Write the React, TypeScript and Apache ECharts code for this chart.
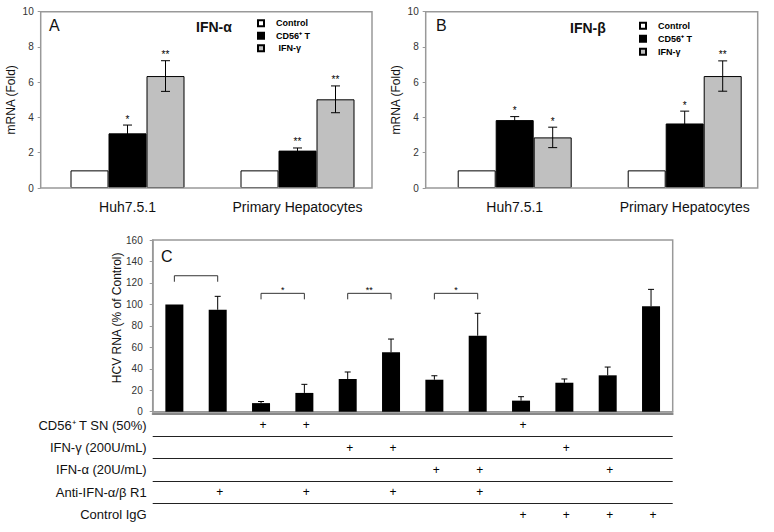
import React, { useEffect, useRef } from 'react';
import * as echarts from 'echarts';

const FONT = '"Liberation Sans", Arial, Helvetica, sans-serif';

// ---------- Panels A & B ----------
const abCategories = ['Huh7.5.1', 'Primary Hepatocytes'];
const abSeriesNames = ['Control', 'CD56⁺ T', 'IFN-γ'];
const abColors = ['#ffffff', '#000000', '#c0c0c0'];
const abTicks = [0, 10, 2]; // min, max, interval

const aControl = [1, 1];
const aCD56 = [3.1, 2.12];
const aIFNg = [6.35, 5.03];
const aCD56Err = [0.47, 0.15];
const aIFNgErr = [0.87, 0.76];
const aCD56Sig = ['*', '**'];
const aIFNgSig = ['**', '**'];

const bControl = [1, 1];
const bCD56 = [3.85, 3.66];
const bIFNg = [2.87, 6.35];
const bCD56Err = [0.2, 0.7];
const bIFNgErr = [0.58, 0.86];
const bCD56Sig = ['*', '*'];
const bIFNgSig = ['*', '**'];

// ---------- Panel C ----------
const cCategories = ['1', '2', '3', '4', '5', '6', '7', '8', '9', '10', '11', '12'];
const cValues = [100, 95, 8, 17.5, 30.5, 55.3, 29.8, 70.8, 10.3, 27, 33.9, 98.2];
const cErrHigh = [null, 107.5, 9.5, 25.5, 37, 67.7, 33.5, 91.7, 14, 30.5, 41.6, 114];
const cTicks = [0, 160, 20];
const cBrackets = [
  { from: 0, to: 1, y: 126.7, label: '' },
  { from: 2, to: 3, y: 110.3, label: '*' },
  { from: 4, to: 5, y: 110.3, label: '**' },
  { from: 6, to: 7, y: 110.3, label: '*' },
];

// ---------- Treatment table ----------
const rowLabels = ['CD56⁺ T SN (50%)', 'IFN-γ (200U/mL)', 'IFN-α (20U/mL)', 'Anti-IFN-α/β R1', 'Control IgG'];
const rowMarks = [
  [2, 3, 8],
  [4, 5, 9],
  [6, 7, 10],
  [1, 3, 5, 7],
  [8, 9, 10, 11],
];

const BLACK = '#000000';

function errRender(offset: number, errs: (number | null)[], sigs: string[] | null, capW: number, both: boolean, absolute: boolean) {
  return (params: any, api: any) => {
    const i = params.dataIndex;
    const e = errs[i];
    if (e == null) return { type: 'group', children: [] };
    const xi = api.value(0);
    const v = api.value(1);
    const hi = absolute ? e : v + e;
    const lo = both ? v - e : v;
    const top = api.coord([xi, hi]);
    const bot = api.coord([xi, lo]);
    const x = top[0] + offset;
    const ls = { stroke: BLACK, lineWidth: 1, fill: null };
    const children: any[] = [
      { type: 'line', shape: { x1: x, y1: top[1], x2: x, y2: bot[1] }, style: ls },
      { type: 'line', shape: { x1: x - capW / 2, y1: top[1], x2: x + capW / 2, y2: top[1] }, style: ls },
    ];
    if (both) {
      children.push({ type: 'line', shape: { x1: x - capW / 2, y1: bot[1], x2: x + capW / 2, y2: bot[1] }, style: ls });
    }
    if (sigs && sigs[i]) {
      children.push({
        type: 'text',
        x,
        y: top[1] - 6,
        style: { text: sigs[i], fill: BLACK, stroke: null, fontSize: 10, fontFamily: FONT, align: 'center', verticalAlign: 'middle' },
      });
    }
    return { type: 'group', children };
  };
}

function abAxes(gridIndex: number, offset: number) {
  return {
    y: {
      gridIndex,
      type: 'value',
      min: abTicks[0],
      max: abTicks[1],
      interval: abTicks[2],
      offset,
      name: 'mRNA (Fold)',
      nameLocation: 'middle',
      nameGap: 24,
      nameMoveOverlap: false,
      nameTextStyle: { fontSize: 12, color: '#111', fontFamily: FONT },
      axisLine: { show: false },
      axisTick: { show: true, length: 3, lineStyle: { color: '#999' } },
      axisLabel: { fontSize: 10, color: '#333', margin: 7, fontFamily: FONT },
      splitLine: { show: false },
    },
    x: {
      gridIndex,
      type: 'category',
      data: abCategories,
      axisLine: { show: false },
      axisTick: { show: false },
      axisLabel: { fontSize: 14, color: '#111', margin: 12, fontFamily: FONT },
      splitLine: { show: false },
    },
  };
}

function abSeries(axisIndex: number, control: number[], cd56: number[], ifng: number[], cd56Err: number[], ifngErr: number[], cd56Sig: string[], ifngSig: string[]) {
  const vals = [control, cd56, ifng];
  const bars = vals.map((d, k) => ({
    type: 'bar',
    name: abSeriesNames[k],
    xAxisIndex: axisIndex,
    yAxisIndex: axisIndex,
    data: d,
    barWidth: 38,
    barGap: '0%',
    itemStyle: { color: abColors[k], borderColor: BLACK, borderWidth: 1 },
    z: 2,
  }));
  const errs = [
    { data: cd56, err: cd56Err, sig: cd56Sig, off: 0 },
    { data: ifng, err: ifngErr, sig: ifngSig, off: 38 },
  ].map((o) => ({
    type: 'custom',
    coordinateSystem: 'cartesian2d',
    xAxisIndex: axisIndex,
    yAxisIndex: axisIndex,
    itemStyle: { color: BLACK },
    data: o.data.map((v, i) => [i, v]),
    renderItem: errRender(o.off, o.err, o.sig, 9, true, false),
    z: 5,
    silent: true,
  }));
  return [...bars, ...errs];
}

function buildOption() {
  const A = abAxes(0, 1.8);
  const B = abAxes(1, 4);
  const plusData: number[][] = [];
  rowMarks.forEach((cols, r) => cols.forEach((c) => plusData.push([c, r])));

  const legendBase = {
    orient: 'vertical',
    padding: 0,
    itemWidth: 6,
    itemHeight: 6,
    icon: 'rect',
    selectedMode: false,
    data: abSeriesNames,
  };

  return {
    animation: false,
    color: [BLACK],
    textStyle: { fontFamily: FONT },
    grid: [
      { left: 42.5, top: 11.7, width: 340, height: 176.3 },
      { left: 429.7, top: 11.7, width: 340, height: 176.3 },
      { left: 152.7, top: 240, width: 520, height: 171.7, show: true, borderColor: '#999', borderWidth: 1.5 },
      { left: 152.7, top: 414, width: 520, height: 111.7 },
    ],
    legend: [
      {
        ...legendBase,
        left: 257,
        top: 17.3,
        itemGap: 0.5,
        formatter: (n: string) => (n === 'IFN-γ' ? ' IFN-γ' : n),
        textStyle: { fontSize: 9, fontWeight: 'bold', color: '#000', fontFamily: FONT, lineHeight: 12, padding: [0, 0, 0, 7] },
      },
      {
        ...legendBase,
        left: 639,
        top: 19.7,
        itemGap: 1,
        textStyle: { fontSize: 9, fontWeight: 'bold', color: '#000', fontFamily: FONT, lineHeight: 12, padding: [0, 0, 0, 7] },
      },
    ],
    xAxis: [
      A.x,
      B.x,
      {
        gridIndex: 2,
        type: 'category',
        data: cCategories,
        axisLine: { show: true, lineStyle: { color: '#999', width: 1.5 } },
        axisTick: { show: false },
        axisLabel: { show: false },
      },
      {
        gridIndex: 3,
        type: 'category',
        data: cCategories,
        axisLine: { show: true, lineStyle: { color: '#888', width: 2 } },
        axisTick: { show: false },
        axisLabel: { show: false },
      },
    ],
    yAxis: [
      A.y,
      B.y,
      {
        gridIndex: 2,
        type: 'value',
        min: cTicks[0],
        max: cTicks[1],
        interval: cTicks[2],
        name: 'HCV RNA (% of Control)',
        nameLocation: 'middle',
        nameGap: 30,
        nameMoveOverlap: false,
        nameTextStyle: { fontSize: 12, color: '#111', fontFamily: FONT, padding: [0, 0, 0, 16] },
        axisLine: { show: true, lineStyle: { color: '#999', width: 1.5 } },
        axisTick: { show: true, length: 3, lineStyle: { color: '#999' } },
        axisLabel: { fontSize: 10, color: '#333', margin: 10, fontFamily: FONT },
        splitLine: { show: false },
      },
      {
        gridIndex: 3,
        type: 'value',
        min: 0,
        max: 5,
        interval: 1,
        inverse: true,
        axisLine: { show: false },
        axisTick: { show: false },
        axisLabel: { show: false },
        splitLine: { show: true, lineStyle: { color: ['transparent', '#222', '#222', '#222', '#222', 'transparent'], width: 1.2 } },
      },
      {
        gridIndex: 3,
        type: 'category',
        data: rowLabels,
        inverse: true,
        position: 'left',
        axisLine: { show: false },
        axisTick: { show: false },
        axisLabel: { fontSize: 13, color: '#111', margin: 6, fontFamily: FONT },
        splitLine: { show: false },
      },
    ],
    graphic: [
      { type: 'rect', shape: { x: 40.7, y: 11.7, width: 331.3, height: 176.3 }, style: { fill: 'none', stroke: '#999', lineWidth: 1.5 }, z: 10 },
      { type: 'rect', shape: { x: 425.7, y: 11.7, width: 332, height: 176.3 }, style: { fill: 'none', stroke: '#999', lineWidth: 1.5 }, z: 10 },
      { type: 'text', left: 49, top: 17, style: { text: 'A', fontSize: 16, fill: '#111', fontFamily: FONT } },
      { type: 'text', left: 196, top: 20, style: { text: 'IFN-α', fontSize: 14, fontWeight: 'bold', fill: '#111', fontFamily: FONT } },
      { type: 'text', left: 436, top: 17, style: { text: 'B', fontSize: 16, fill: '#111', fontFamily: FONT } },
      { type: 'text', left: 570, top: 21, style: { text: 'IFN-β', fontSize: 14, fontWeight: 'bold', fill: '#111', fontFamily: FONT } },
      { type: 'text', left: 161, top: 248, style: { text: 'C', fontSize: 16, fill: '#111', fontFamily: FONT } },
    ],
    series: [
      ...abSeries(0, aControl, aCD56, aIFNg, aCD56Err, aIFNgErr, aCD56Sig, aIFNgSig),
      ...abSeries(1, bControl, bCD56, bIFNg, bCD56Err, bIFNgErr, bCD56Sig, bIFNgSig),
      {
        type: 'bar',
        name: 'HCV RNA',
        xAxisIndex: 2,
        yAxisIndex: 2,
        data: cValues,
        barWidth: 18,
        itemStyle: { color: BLACK },
      },
      {
        type: 'custom',
        coordinateSystem: 'cartesian2d',
        xAxisIndex: 2,
        yAxisIndex: 2,
        itemStyle: { color: BLACK },
        data: cValues.map((v, i) => [i, v]),
        renderItem: errRender(0, cErrHigh, null, 6, false, true),
        z: 5,
        silent: true,
      },
      {
        type: 'custom',
        coordinateSystem: 'cartesian2d',
        xAxisIndex: 2,
        yAxisIndex: 2,
        itemStyle: { color: BLACK },
        data: cBrackets.map((b) => [b.from, b.y, b.to]),
        renderItem: (params: any, api: any) => {
          const b = cBrackets[params.dataIndex];
          const p1 = api.coord([api.value(0), api.value(1)]);
          const p2 = api.coord([api.value(2), api.value(1)]);
          const children: any[] = [
            {
              type: 'polyline',
              shape: { points: [[p1[0], p1[1] + 6], [p1[0], p1[1]], [p2[0], p1[1]], [p2[0], p1[1] + 6]] },
              style: { stroke: '#333', lineWidth: 1, fill: null },
            },
          ];
          if (b.label) {
            children.push({
              type: 'text',
              x: (p1[0] + p2[0]) / 2,
              y: p1[1] - 3,
              style: { text: b.label, fill: BLACK, stroke: null, fontSize: 9, fontFamily: FONT, align: 'center', verticalAlign: 'middle' },
            });
          }
          return { type: 'group', children };
        },
        z: 5,
        silent: true,
      },
      {
        type: 'custom',
        coordinateSystem: 'cartesian2d',
        xAxisIndex: 3,
        yAxisIndex: 4,
        itemStyle: { color: BLACK },
        data: plusData,
        renderItem: (params: any, api: any) => {
          const p = api.coord([api.value(0), api.value(1)]);
          return {
            type: 'text',
            x: p[0] + 2,
            y: p[1],
            style: { text: '+', fill: BLACK, stroke: null, fontSize: 12, fontFamily: FONT, align: 'center', verticalAlign: 'middle' },
          };
        },
        silent: true,
      },
    ],
  };
}

export default function App() {
  const ref = useRef<HTMLDivElement>(null);
  useEffect(() => {
    if (!ref.current) return;
    const chart = echarts.init(ref.current, undefined, { renderer: 'svg' });
    chart.setOption(buildOption() as any);
    return () => chart.dispose();
  }, []);
  return (
    <div
      ref={ref}
      style={{ position: 'absolute', left: 0, top: 0, width: 774, height: 532, background: '#fff' }}
    />
  );
}
